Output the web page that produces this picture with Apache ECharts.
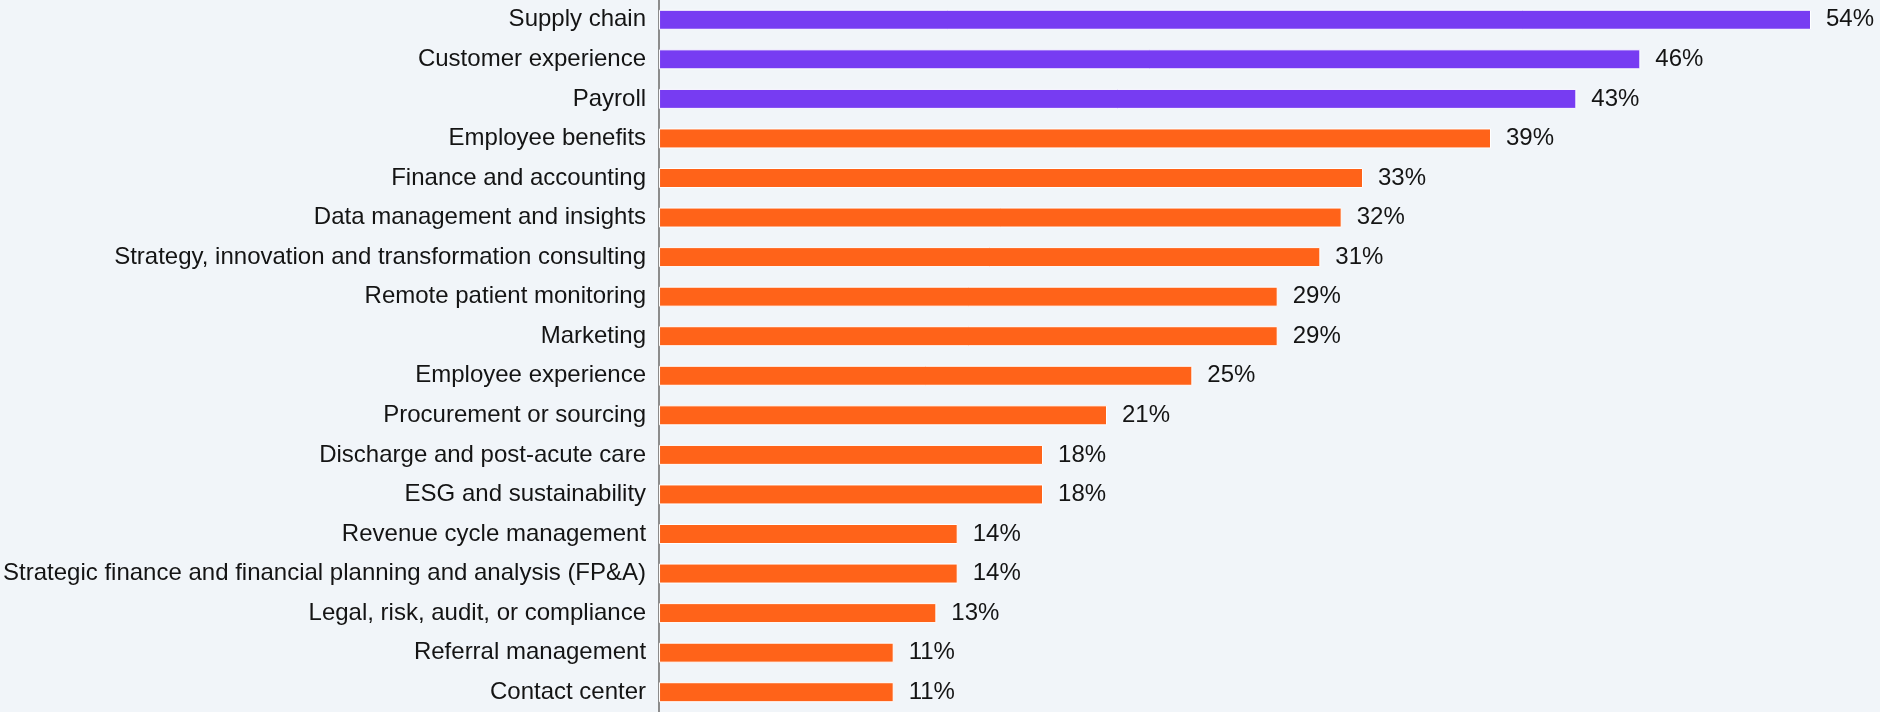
<!DOCTYPE html>
<html>
<head>
<meta charset="utf-8">
<script src="https://cdn.jsdelivr.net/npm/echarts@6/dist/echarts.min.js"></script>
<style>
  html, body { margin: 0; padding: 0; background: #f1f5f9; }
  #chart { width: 1880px; height: 712px; }
</style>
</head>
<body>
<div id="chart"></div>
<script>
const categories = [
  "Supply chain",
  "Customer experience",
  "Payroll",
  "Employee benefits",
  "Finance and accounting",
  "Data management and insights",
  "Strategy, innovation and transformation consulting",
  "Remote patient monitoring",
  "Marketing",
  "Employee experience",
  "Procurement or sourcing",
  "Discharge and post-acute care",
  "ESG and sustainability",
  "Revenue cycle management",
  "Strategic finance and financial planning and analysis (FP&A)",
  "Legal, risk, audit, or compliance",
  "Referral management",
  "Contact center"
];
const values = [54, 46, 43, 39, 33, 32, 31, 29, 29, 25, 21, 18, 18, 14, 14, 13, 11, 11];
const highlightCount = 3;

const purple = "#773cf2";
const orange = "#ff6319";

const chart = echarts.init(document.getElementById("chart"));

const option = {
  backgroundColor: "#f1f5f9",
  animation: false,
  grid: {
    left: 658,
    right: 5,
    top: -2,
    height: 720,
    containLabel: false
  },
  xAxis: {
    type: "value",
    min: 0,
    max: 57,
    show: false
  },
  yAxis: {
    type: "category",
    inverse: true,
    data: categories,
    axisLine: { show: true, lineStyle: { color: "#8c8c8c", width: 2 } },
    axisTick: { show: false },
    axisLabel: {
      margin: 13,
      color: "#141414",
      fontSize: 24,
      fontFamily: "Liberation Sans, Arial, sans-serif"
    }
  },
  series: [
    {
      type: "bar",
      barWidth: 20,
      data: values.map((v, i) => ({
        value: v,
        itemStyle: { color: i < highlightCount ? purple : orange }
      })),
      itemStyle: { borderColor: "#ffffff", borderWidth: 1 },
      label: {
        show: true,
        position: "right",
        distance: 15,
        formatter: "{c}%",
        color: "#141414",
        fontSize: 24,
        fontFamily: "Liberation Sans, Arial, sans-serif"
      }
    }
  ]
};

chart.setOption(option);
</script>
</body>
</html>
